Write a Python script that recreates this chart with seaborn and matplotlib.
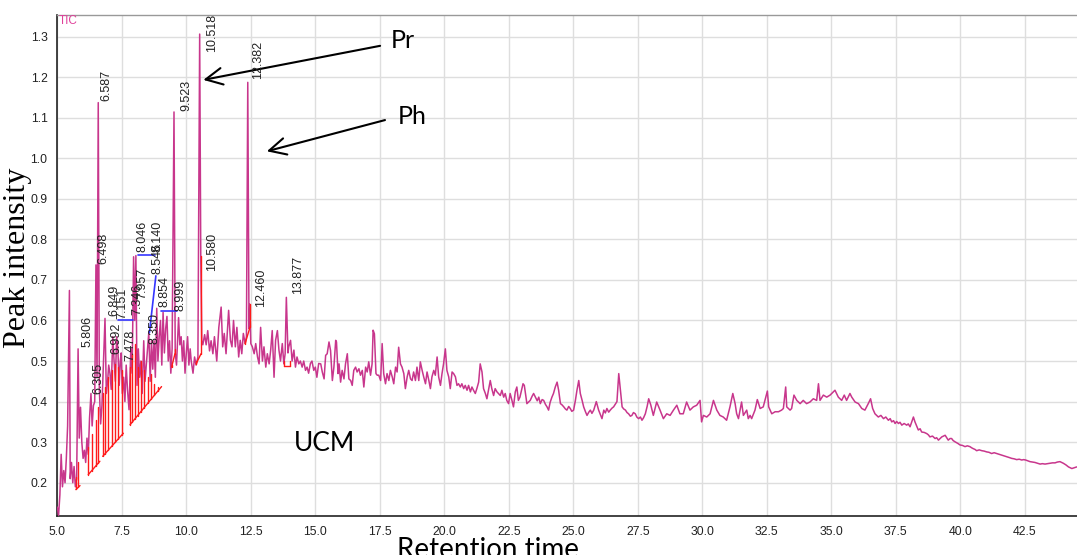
import numpy as np
import pandas as pd
import matplotlib
matplotlib.use("Agg")
import matplotlib.pyplot as plt
import seaborn as sns
from matplotlib.ticker import MultipleLocator, FormatStrFormatter

# ---------------- data ----------------
rt_a = [5.00, 5.05, 5.10, 5.15, 5.20, 5.25, 5.30, 5.35, 5.40, 5.47, 5.50, 5.55, 5.60, 5.65,
        5.70, 5.75, 5.806, 5.85, 5.90, 5.95, 6.00, 6.05, 6.10, 6.15, 6.20, 6.25, 6.305, 6.35,
        6.40, 6.45, 6.498, 6.54, 6.587, 6.63, 6.68, 6.73, 6.79, 6.849, 6.90, 6.95, 6.992, 7.04,
        7.09, 7.151, 7.20, 7.25, 7.30, 7.346, 7.40, 7.44, 7.478, 7.52, 7.57, 7.62, 7.67, 7.72,
        7.78, 7.85, 7.90, 7.957, 8.00, 8.046, 8.09, 8.140, 8.19, 8.24, 8.29, 8.350, 8.40, 8.45,
        8.50, 8.546, 8.60, 8.65, 8.70, 8.75, 8.80, 8.854, 8.90, 8.95, 8.999, 9.05, 9.10, 9.15,
        9.20, 9.25, 9.30, 9.35, 9.40, 9.45, 9.523, 9.57, 9.62, 9.70, 9.75, 9.80, 9.85, 9.90, 9.95]
tic_a = [0.14, 0.12, 0.17, 0.27, 0.19, 0.23, 0.20, 0.26, 0.34, 0.674, 0.21, 0.25, 0.20, 0.24,
         0.19, 0.21, 0.53, 0.31, 0.386, 0.30, 0.26, 0.28, 0.25, 0.31, 0.27, 0.36, 0.42, 0.34,
         0.39, 0.40, 0.737, 0.46, 1.137, 0.43, 0.345, 0.39, 0.50, 0.605, 0.42, 0.45, 0.49, 0.47,
         0.43, 0.56, 0.50, 0.45, 0.56, 0.53, 0.44, 0.50, 0.52, 0.42, 0.46, 0.40, 0.49, 0.43,
         0.38, 0.53, 0.47, 0.757, 0.60, 0.76, 0.44, 0.53, 0.46, 0.50, 0.42, 0.55, 0.45, 0.49,
         0.53, 0.57, 0.45, 0.55, 0.48, 0.55, 0.46, 0.63, 0.50, 0.56, 0.60, 0.49, 0.62, 0.52,
         0.58, 0.61, 0.50, 0.55, 0.47, 0.53, 1.114, 0.52, 0.49, 0.607, 0.54, 0.56, 0.50, 0.55, 0.47]

rt_b = [10.00, 10.05, 10.10, 10.15, 10.19, 10.26, 10.32, 10.38, 10.45, 10.518, 10.56, 10.60,
        10.64, 10.71, 10.77, 10.83, 10.90, 10.96, 11.03, 11.09, 11.18, 11.26, 11.35, 11.41,
        11.47, 11.54, 11.64, 11.71, 11.77, 11.83, 11.90, 11.96, 12.03, 12.09, 12.15, 12.21,
        12.28, 12.33, 12.382, 12.43, 12.46, 12.50, 12.56, 12.63, 12.69, 12.76, 12.82, 12.88,
        12.95, 13.01, 13.08, 13.14, 13.21, 13.27, 13.33, 13.40, 13.46, 13.53, 13.59, 13.65,
        13.72, 13.78, 13.83, 13.877, 13.94, 13.97, 14.04, 14.10, 14.17, 14.23, 14.29, 14.36,
        14.42, 14.49, 14.55, 14.62, 14.68, 14.74, 14.81, 14.87, 14.94, 15.00, 15.06, 15.13]
tic_b = [0.52, 0.56, 0.49, 0.53, 0.50, 0.47, 0.51, 0.49, 0.51, 1.306, 0.76, 0.55,
         0.54, 0.565, 0.54, 0.575, 0.525, 0.55, 0.518, 0.56, 0.50, 0.583, 0.633, 0.535,
         0.568, 0.518, 0.625, 0.551, 0.535, 0.60, 0.535, 0.583, 0.51, 0.551, 0.518, 0.568,
         0.543, 0.56, 1.187, 0.58, 0.64, 0.543, 0.535, 0.518, 0.543, 0.51, 0.493, 0.583,
         0.50, 0.535, 0.485, 0.518, 0.493, 0.527, 0.575, 0.46, 0.551, 0.575, 0.527, 0.50,
         0.543, 0.493, 0.518, 0.657, 0.52, 0.535, 0.551, 0.50, 0.527, 0.485, 0.51, 0.493,
         0.50, 0.485, 0.50, 0.477, 0.485, 0.47, 0.494, 0.50, 0.477, 0.485, 0.46, 0.494]

rt_c = [15.21, 15.27, 15.34, 15.40, 15.46, 15.53, 15.59, 15.66, 15.72, 15.79, 15.82, 15.88,
        15.92, 15.98, 16.04, 16.11, 16.17, 16.24, 16.30, 16.37, 16.43, 16.49, 16.56, 16.62,
        16.69, 16.75, 16.82, 16.88, 16.95, 17.01, 17.07, 17.14, 17.20, 17.24, 17.29, 17.35,
        17.40, 17.46, 17.53, 17.59, 17.65, 17.72, 17.78, 17.85, 17.91, 17.98, 18.04, 18.11,
        18.17, 18.23, 18.30, 18.36, 18.43, 18.49, 18.56, 18.62, 18.69, 18.75, 18.81, 18.88,
        18.94, 19.01, 19.07, 19.14, 19.20, 19.27, 19.33, 19.40, 19.46, 19.52, 19.59, 19.65,
        19.72, 19.78, 19.85, 19.91, 19.97, 20.04, 20.10, 20.17, 20.23, 20.30, 20.36, 20.43,
        20.49, 20.55, 20.62, 20.68, 20.75, 20.81, 20.88, 20.94, 21.01, 21.07, 21.13, 21.20,
        21.26, 21.33, 21.39, 21.46, 21.52, 21.59, 21.65, 21.71, 21.78, 21.84, 21.91, 21.97,
        22.04, 22.10, 22.17, 22.23, 22.30, 22.36, 22.42, 22.49, 22.55, 22.62, 22.68, 22.75,
        22.81, 22.87]
tic_c = [0.493, 0.473, 0.456, 0.514, 0.518, 0.547, 0.526, 0.452, 0.485, 0.551, 0.547, 0.469,
         0.493, 0.448, 0.477, 0.456, 0.493, 0.518, 0.456, 0.452, 0.44, 0.477, 0.485, 0.473,
         0.481, 0.465, 0.477, 0.436, 0.485, 0.473, 0.498, 0.465, 0.493, 0.576, 0.567, 0.469,
         0.465, 0.465, 0.452, 0.543, 0.469, 0.444, 0.469, 0.452, 0.477, 0.461, 0.444, 0.485,
         0.473, 0.534, 0.493, 0.485, 0.469, 0.432, 0.461, 0.477, 0.456, 0.452, 0.473, 0.452,
         0.485, 0.452, 0.498, 0.477, 0.461, 0.444, 0.473, 0.452, 0.432, 0.461, 0.477, 0.465,
         0.51, 0.461, 0.44, 0.469, 0.493, 0.53, 0.477, 0.461, 0.432, 0.473, 0.469, 0.461,
         0.44, 0.444, 0.436, 0.444, 0.432, 0.44, 0.428, 0.44, 0.424, 0.436, 0.428, 0.42,
         0.432, 0.448, 0.493, 0.473, 0.432, 0.42, 0.407, 0.428, 0.452, 0.432, 0.415, 0.432,
         0.424, 0.42, 0.415, 0.428, 0.411, 0.42, 0.403, 0.395, 0.42, 0.403, 0.387, 0.424,
         0.436, 0.403]

rt_d = [22.93, 23.05, 23.10, 23.20, 23.33, 23.40, 23.46, 23.53, 23.60, 23.66, 23.72, 23.79,
        23.85, 23.92, 23.98, 24.04, 24.10, 24.17, 24.23, 24.30, 24.37, 24.43, 24.50, 24.56,
        24.63, 24.69, 24.75, 24.82, 24.88, 24.94, 25.01, 25.08, 25.14, 25.21, 25.27, 25.34,
        25.40, 25.47, 25.53, 25.60, 25.66, 25.72, 25.79, 25.89, 25.98, 26.04, 26.11, 26.18,
        26.24, 26.30, 26.37, 26.43, 26.50, 26.56, 26.62, 26.69, 26.76, 26.82, 26.89, 26.95,
        27.02, 27.08, 27.14, 27.21, 27.27, 27.33, 27.40, 27.46, 27.53, 27.60, 27.66, 27.72,
        27.79, 27.86, 27.92, 28.00]
tic_d = [0.411, 0.444, 0.44, 0.395, 0.403, 0.413, 0.42, 0.411, 0.402, 0.411, 0.395, 0.405,
         0.403, 0.393, 0.387, 0.379, 0.398, 0.411, 0.42, 0.436, 0.448, 0.428, 0.395, 0.392,
         0.387, 0.382, 0.379, 0.388, 0.383, 0.376, 0.379, 0.403, 0.428, 0.452, 0.42, 0.403,
         0.387, 0.375, 0.366, 0.374, 0.379, 0.371, 0.379, 0.40, 0.379, 0.369, 0.358, 0.379,
         0.372, 0.383, 0.374, 0.379, 0.384, 0.387, 0.393, 0.40, 0.469, 0.432, 0.387, 0.382,
         0.379, 0.373, 0.37, 0.364, 0.366, 0.373, 0.37, 0.362, 0.358, 0.362, 0.354, 0.36,
         0.37, 0.388, 0.407, 0.392]

rt_e = [28.10, 28.23, 28.36, 28.49, 28.62, 28.75, 28.88, 29.01, 29.13, 29.26, 29.39, 29.52,
        29.65, 29.78, 29.91, 29.97, 30.04, 30.17, 30.30, 30.43, 30.56, 30.68, 30.81, 30.94,
        31.07, 31.18, 31.27, 31.33, 31.40, 31.46, 31.52, 31.59, 31.72, 31.78, 31.85, 31.91,
        32.04, 32.13, 32.24, 32.36, 32.52, 32.57, 32.69, 32.82, 32.95, 33.07, 33.14, 33.23,
        33.27, 33.40, 33.46, 33.55, 33.66, 33.79, 33.91, 34.04, 34.17, 34.30, 34.43, 34.50,
        34.56, 34.69, 34.82, 34.95, 35.08, 35.14, 35.27, 35.40, 35.50, 35.59, 35.72, 35.79,
        35.92, 36.05, 36.18, 36.30, 36.43, 36.52, 36.60, 36.69, 36.82, 36.92, 37.02, 37.11,
        37.21, 37.28, 37.34, 37.41, 37.47, 37.53, 37.60, 37.66, 37.73, 37.82, 37.92, 37.98,
        38.05, 38.18, 38.24, 38.37, 38.44, 38.50, 38.60, 38.70, 38.76, 38.82, 38.92, 39.02,
        39.08, 39.15, 39.28, 39.41, 39.47, 39.53, 39.60, 39.66, 39.72, 39.79, 39.90, 39.99,
        40.08, 40.18, 40.27, 40.37, 40.44, 40.50, 40.57, 40.63, 40.73, 40.83, 40.92, 41.02,
        41.11, 41.21, 41.31, 41.41, 41.50, 41.60, 41.70, 41.80, 41.90, 41.99, 42.08, 42.18,
        42.28, 42.38, 42.45, 42.53, 42.62, 42.70, 42.80, 42.89, 42.99, 43.09, 43.18, 43.28,
        43.38, 43.48, 43.57, 43.67, 43.76, 43.86, 43.93, 43.99, 44.09, 44.19, 44.26, 44.32,
        44.42, 44.51]
tic_e = [0.366, 0.399, 0.379, 0.358, 0.37, 0.366, 0.379, 0.391, 0.37, 0.37, 0.399, 0.379,
         0.387, 0.391, 0.403, 0.35, 0.366, 0.362, 0.37, 0.403, 0.379, 0.366, 0.362, 0.354,
         0.387, 0.42, 0.395, 0.37, 0.358, 0.379, 0.399, 0.366, 0.379, 0.358, 0.366, 0.358,
         0.379, 0.405, 0.383, 0.387, 0.426, 0.387, 0.37, 0.375, 0.375, 0.379, 0.383, 0.436,
         0.387, 0.379, 0.383, 0.416, 0.403, 0.395, 0.403, 0.395, 0.399, 0.407, 0.403, 0.444,
         0.403, 0.416, 0.411, 0.416, 0.424, 0.428, 0.411, 0.403, 0.416, 0.403, 0.42, 0.411,
         0.399, 0.395, 0.383, 0.379, 0.395, 0.407, 0.383, 0.37, 0.362, 0.366, 0.358, 0.362,
         0.354, 0.358, 0.35, 0.353, 0.346, 0.351, 0.346, 0.349, 0.342, 0.346, 0.342, 0.345,
         0.338, 0.362, 0.35, 0.33, 0.333, 0.325, 0.324, 0.321, 0.318, 0.313, 0.315, 0.309,
         0.311, 0.305, 0.313, 0.317, 0.311, 0.305, 0.309, 0.309, 0.304, 0.301, 0.297, 0.293,
         0.292, 0.289, 0.291, 0.289, 0.286, 0.284, 0.282, 0.279, 0.281, 0.279, 0.278, 0.276,
         0.275, 0.272, 0.274, 0.272, 0.27, 0.268, 0.266, 0.264, 0.262, 0.26, 0.259, 0.257,
         0.258, 0.256, 0.257, 0.256, 0.254, 0.252, 0.251, 0.25, 0.248, 0.246, 0.247, 0.246,
         0.247, 0.248, 0.249, 0.249, 0.251, 0.252, 0.25, 0.248, 0.244, 0.239, 0.237, 0.235,
         0.237, 0.239]

# integrated-peak labels (text, left edge rt, bottom intensity)
peak_label = ["5.806", "6.305", "6.498", "6.587", "6.849", "6.992", "7.151", "7.346", "7.478",
              "7.957", "8.046", "8.140", "8.546", "8.350", "8.854", "8.999", "9.523", "10.518",
              "10.580", "12.382", "12.460", "13.877"]
label_rt = [5.946, 6.372, 6.55, 6.655, 6.965, 7.04, 7.275, 7.857, 7.585, 8.05, 8.077, 8.66,
            8.66, 8.53, 8.91, 9.56, 9.756, 10.76, 10.76, 12.55, 12.66, 14.09]
label_int = [0.534, 0.419, 0.739, 1.141, 0.612, 0.518, 0.604, 0.613, 0.50, 0.654, 0.768, 0.768,
             0.715, 0.543, 0.632, 0.624, 1.117, 1.261, 0.723, 1.196, 0.632, 0.666]

# red integration baselines (start rt, start int, end rt, end int)
base_t0 = [5.72, 6.20, 6.76, 7.82, 9.43, 10.38, 12.28, 13.78]
base_y0 = [0.183, 0.220, 0.265, 0.343, 0.485, 0.493, 0.543, 0.487]
base_t1 = [5.88, 6.65, 7.56, 9.04, 9.56, 10.57, 12.47, 14.00]
base_y1 = [0.193, 0.253, 0.322, 0.437, 0.518, 0.518, 0.584, 0.487]

# red drop lines (rt, top intensity)
drop_rt = [5.73, 5.81, 6.20, 6.33, 6.49, 6.59, 6.76, 6.85, 6.98, 7.11, 7.24, 7.36, 7.49,
           7.82, 7.91, 8.01, 8.11, 8.24, 8.37, 8.50, 8.63, 8.76, 8.89, 9.02,
           9.43, 9.56, 10.38, 10.57, 12.28, 12.47, 13.78, 14.00]
drop_top = [0.215, 0.25, 0.289, 0.32, 0.354, 0.387, 0.42, 0.436, 0.46, 0.477, 0.493, 0.485, 0.477,
            0.485, 0.518, 0.543, 0.485, 0.50, 0.477, 0.46, 0.469, 0.444, 0.436, 0.436,
            0.49, 0.53, 0.50, 0.76, 0.55, 0.64, 0.50, 0.50]

# blue grouped-peak baselines
blue_t0 = [7.36, 8.14, 8.57, 9.00]
blue_y0 = [0.600, 0.762, 0.570, 0.624]
blue_t1 = [7.95, 8.79, 8.82, 9.65]
blue_y1 = [0.600, 0.762, 0.710, 0.624]

# ---------------- style ----------------
sns.set_style("white")
plt.rcParams["font.family"] = ["Liberation Sans", "DejaVu Sans"]

W, H = 1077, 555
fig = plt.figure(figsize=(W / 100, H / 100), dpi=100)
ax = fig.add_axes([57.3 / W, 39 / H, (W - 57.3) / W, 501 / H])

df = pd.DataFrame({"rt": rt_a + rt_b + rt_c + rt_d + rt_e,
                   "tic": tic_a + tic_b + tic_c + tic_d + tic_e})
trace_color = "#c8368c"
sns.lineplot(data=df, x="rt", y="tic", sort=False, estimator=None, color=trace_color,
             lw=1.1, ax=ax, zorder=3)

# red baselines and drop lines
for t0, y0, t1, y1 in zip(base_t0, base_y0, base_t1, base_y1):
    ax.plot([t0, t1], [y0, y1], color="#ff1a1a", lw=1.0, zorder=4)
for t, top in zip(drop_rt, drop_top):
    for t0, y0, t1, y1 in zip(base_t0, base_y0, base_t1, base_y1):
        if t0 - 0.02 <= t <= t1 + 0.02:
            yb = y0 + (y1 - y0) * (t - t0) / (t1 - t0)
            ax.plot([t, t], [yb, top], color="#ff1a1a", lw=1.0, zorder=4)
            break
for t0, y0, t1, y1 in zip(blue_t0, blue_y0, blue_t1, blue_y1):
    ax.plot([t0, t1], [y0, y1], color="#3535ff", lw=1.2, zorder=4)

for lab, x, y in zip(peak_label, label_rt, label_int):
    ax.text(x, y, lab, rotation=90, ha="left", va="bottom", fontsize=9,
            color="#222222", zorder=5)

ax.set_xlim(5.0, 44.52)
ax.set_ylim(0.118, 1.353)
ax.xaxis.set_major_locator(MultipleLocator(2.5))
ax.xaxis.set_minor_locator(MultipleLocator(0.5))
ax.yaxis.set_major_locator(MultipleLocator(0.1))
ax.yaxis.set_minor_locator(MultipleLocator(0.02))
ax.xaxis.set_major_formatter(FormatStrFormatter("%.1f"))
ax.yaxis.set_major_formatter(FormatStrFormatter("%.1f"))
ax.tick_params(axis="both", which="major", direction="out", length=5, width=1.0,
               labelsize=8.8, labelcolor="#222222", color="#222222", pad=2)
ax.tick_params(axis="both", which="minor", direction="out", length=3, width=1.0,
               color="#222222")
ax.grid(True, which="major", color="#dedede", lw=1.0, zorder=0)
ax.set_axisbelow(True)
for s in ["left", "bottom"]:
    ax.spines[s].set_color("#222222")
    ax.spines[s].set_linewidth(1.2)
ax.spines["top"].set_color("#999999")
ax.spines["top"].set_linewidth(1.0)
ax.spines["right"].set_visible(False)
ax.set_xlabel("")
ax.set_ylabel("")

ax.text(5.05, 1.353, "TIC", ha="left", va="top", fontsize=8.5, color="#e0409a")

# annotations
ax.text(18.40, 1.289, "Pr", ha="center", va="center", fontsize=18, family="Lato", color="black")
ax.text(18.74, 1.102, "Ph", ha="center", va="center", fontsize=18, family="Lato", color="black")
ax.text(15.37, 0.297, "UCM", ha="center", va="center", fontsize=19, family="Lato", color="black")
arrow = dict(arrowstyle="->", mutation_scale=30, lw=1.5, color="black", shrinkA=0, shrinkB=0)
ax.annotate("", xy=(10.66, 1.193), xytext=(17.51, 1.277), arrowprops=arrow)
ax.annotate("", xy=(13.12, 1.017), xytext=(17.70, 1.094), arrowprops=arrow)

fig.text(18 / W, 1 - 258 / H, "Peak intensity", rotation=90, ha="center", va="center",
         fontsize=23, family="Liberation Serif", color="black")
fig.text(488 / W, 1 - 537 / H, "Retention time", ha="center", va="top",
         fontsize=20, family="Lato", color="black")

fig.savefig("out.png", dpi=100)
